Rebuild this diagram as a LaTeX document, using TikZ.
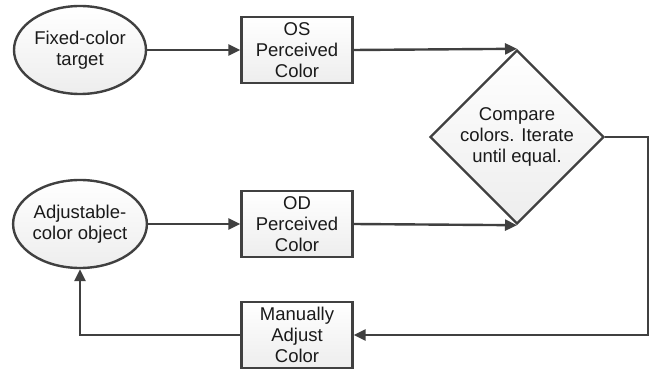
\documentclass[tikz,border=0pt]{standalone}
\usepackage{fontspec}
\setmainfont{Liberation Sans}
\usetikzlibrary{positioning,shapes.geometric,arrows.meta}

\definecolor{linegray}{HTML}{404040}
\definecolor{textgray}{HTML}{1A1A1A}

\tikzset{
  base/.style={draw=linegray, line width=2.4pt, text=textgray, align=center,
    top color=white, bottom color=gray!14, inner sep=0pt,
    font=\fontsize{18.5}{21}\selectfont},
  oval/.style={base, ellipse, minimum width=132pt, minimum height=88pt},
  box/.style={base, rectangle, minimum width=111pt, minimum height=66pt},
  decide/.style={base, diamond, minimum width=174pt, minimum height=174pt},
  flow/.style={draw=linegray, line width=2.4pt, -{Triangle[length=12pt,width=11pt]}}
}

\begin{document}
\begin{tikzpicture}[x=1pt, y=-1pt]
    \useasboundingbox (0,0) rectangle (655,371);

    \node[oval] (target) at (80,50) {Fixed-color\\target};
    \node[oval] (object) at (80,224) {Adjustable-\\color object};
    \node[box] (os) at (297,50) {OS\\Perceived\\Color};
    \node[box] (od) at (297,224) {OD\\Perceived\\Color};
    \node[box] (adjust) at (297,335) {Manually\\Adjust\\Color};
    \node[decide] (compare) at (517,137) {Compare\\colors. Iterate\\until equal.};

    \coordinate (corner) at (648,137);

    \draw[flow] (target) -- (os);
    \draw[flow] (object) -- (od);
    \draw[flow] (os.east) -- (compare.north);
    \draw[flow] (od.east) -- (compare.south);
    \draw[flow] (compare.east) -- (corner) |- (adjust.east);
    \draw[flow] (adjust.west) -| (object.south);
  \end{tikzpicture}
\end{document}
